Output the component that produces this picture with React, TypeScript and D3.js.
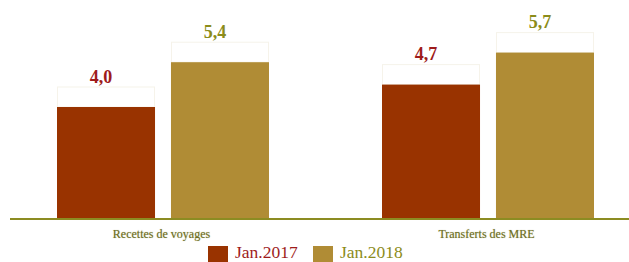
import React from "react";
import * as d3 from "d3";

const categories = ["Recettes de voyages", "Transferts des MRE"];
const seriesNames = ["Jan.2017", "Jan.2018"];
const values2017 = [4.0, 4.7];
const values2018 = [5.4, 5.7];
const valueLabels2017 = ["4,0", "4,7"];
const valueLabels2018 = ["5,4", "5,7"];

const W = 629;
const H = 262;
const barColors = ["#993300", "#B08C35"];
const labelColors = ["#9E1B1B", "#8C8C1A"];
const axisY = 219;

export default function App() {
  const x0 = d3.scaleBand<string>().domain(categories).range([0.5, 650.5]).padding(0);
  const x1 = d3.scaleBand<string>().domain(seriesNames).range([56.5, 268.5]).paddingInner(0.14).paddingOuter(0);
  const y = d3.scaleLinear().domain([0.5, 6.5]).range([axisY, axisY - 6 * 32]);

  const rows = categories.map((c, i) => ({
    cat: c,
    vals: [values2017[i], values2018[i]],
    labels: [valueLabels2017[i], valueLabels2018[i]],
  }));

  return (
    <svg width={W} height={H} style={{ position: "absolute", left: 0, top: 0, background: "#fff" }}
      fontFamily="'Liberation Serif', 'DejaVu Serif', serif">
      {rows.map((r) => (
        <g key={r.cat} transform={`translate(${x0(r.cat)},0)`}>
          {r.vals.map((v, j) => {
            const bx = x1(seriesNames[j])!;
            const bw = x1.bandwidth();
            const top = y(v);
            return (
              <g key={j}>
                <rect x={bx + 0.5} y={top - 20} width={bw - 1} height={20} fill="#fff" stroke="#f6f3ea" strokeWidth={1} />
                <rect x={bx} y={top} width={bw} height={axisY - top} fill={barColors[j]} />
                <text x={bx + bw / 2 - 5} y={top - 24.5} textAnchor="middle" fontSize={18} fontWeight="bold" fill={labelColors[j]}>
                  {r.labels[j]}
                </text>
              </g>
            );
          })}
          <text x={x0.bandwidth() / 2 - 1.5} y={238} textAnchor="middle" fontSize={12} fill="#6E6E22"
            style={{ textShadow: "0 0 1px rgba(120,120,40,0.5)" }}>
            {r.cat}
          </text>
        </g>
      ))}
      <line x1={10} x2={629} y1={axisY} y2={axisY} stroke="#8C8C22" strokeWidth={2} />
      {seriesNames.map((s, j) => {
        const lx = j === 0 ? 208 : 313;
        return (
          <g key={s}>
            <rect x={lx} y={246} width={20} height={18} fill={barColors[j]} />
            <text x={lx + 27} y={258} fontSize={17.5} fill={labelColors[j]}>{s}</text>
          </g>
        );
      })}
    </svg>
  );
}
